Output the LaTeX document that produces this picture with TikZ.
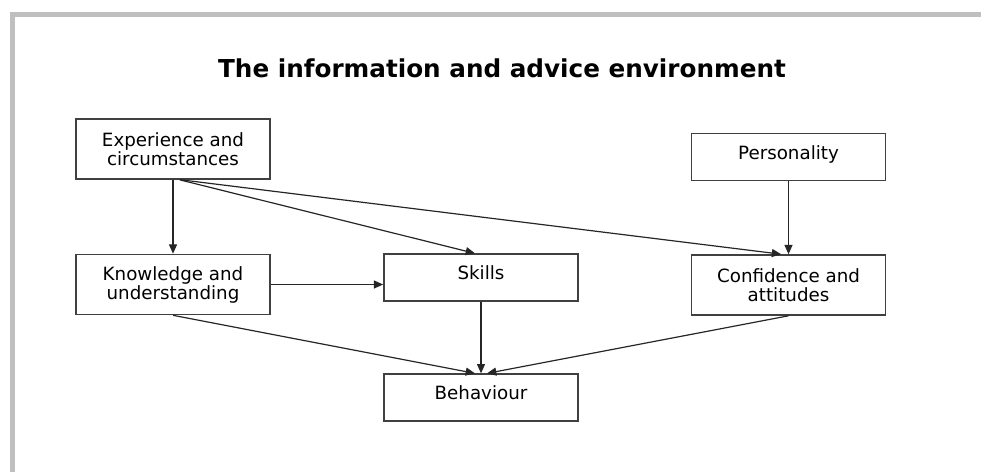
\documentclass[tikz,border=0pt]{standalone}
\usepackage{fontspec}
\setmainfont{DejaVu Sans}
\usetikzlibrary{arrows.meta}

\begin{document}
\begin{tikzpicture}[x=0.75pt,y=-0.75pt,
	box/.style={draw=black!75,line width=1.2pt,minimum width=145.5pt,align=center,inner sep=0pt,font=\fontsize{13.7}{14.2}\selectfont},
	twoline/.style={minimum height=45pt},
	oneline/.style={minimum height=35pt,text depth=7pt},
	link/.style={draw=black!85,line width=0.9pt,-{Triangle[length=7pt,width=6pt]}}]
	\useasboundingbox (0,0) rectangle (981,472);
	\draw [black!25,line width=3.75pt] (12.5,472) -- (12.5,14.5) -- (981,14.5);
	\node [anchor=base,font=\fontsize{18.5}{20}\selectfont\bfseries] (title) at (502,77) {The information and advice environment};
	% top row
	\node [box,twoline] (exp) at (173,149) {Experience and\\circumstances};
	\node [box,oneline] (pers) at (788.5,157) {Personality};
	% middle row
	\node [box,twoline] (know) at (173,284.5) {Knowledge and\\understanding};
	\node [box,oneline] (skills) at (481,277.5) {Skills};
	\node [box,twoline] (conf) at (788.5,285) {Confidence and\\attitudes};
	% bottom
	\node [box,oneline] (behav) at (481,397.5) {Behaviour};
	% arrows
	\draw [link] (exp.south) -- (know.north);
	\draw [link] ([xshift=5pt]exp.south) -- ([xshift=-4.5pt]skills.north);
	\draw [link] ([xshift=6pt]exp.south) -- ([xshift=-5.5pt]conf.north);
	\draw [link] (pers.south) -- (conf.north);
	\draw [link] (know.east) -- (know.east -| skills.west);
	\draw [link] (skills.south) -- (behav.north);
	\draw [link] (know.south) -- ([xshift=-4.5pt]behav.north);
	\draw [link] (conf.south) -- ([xshift=4.5pt]behav.north);
\end{tikzpicture}
\end{document}
